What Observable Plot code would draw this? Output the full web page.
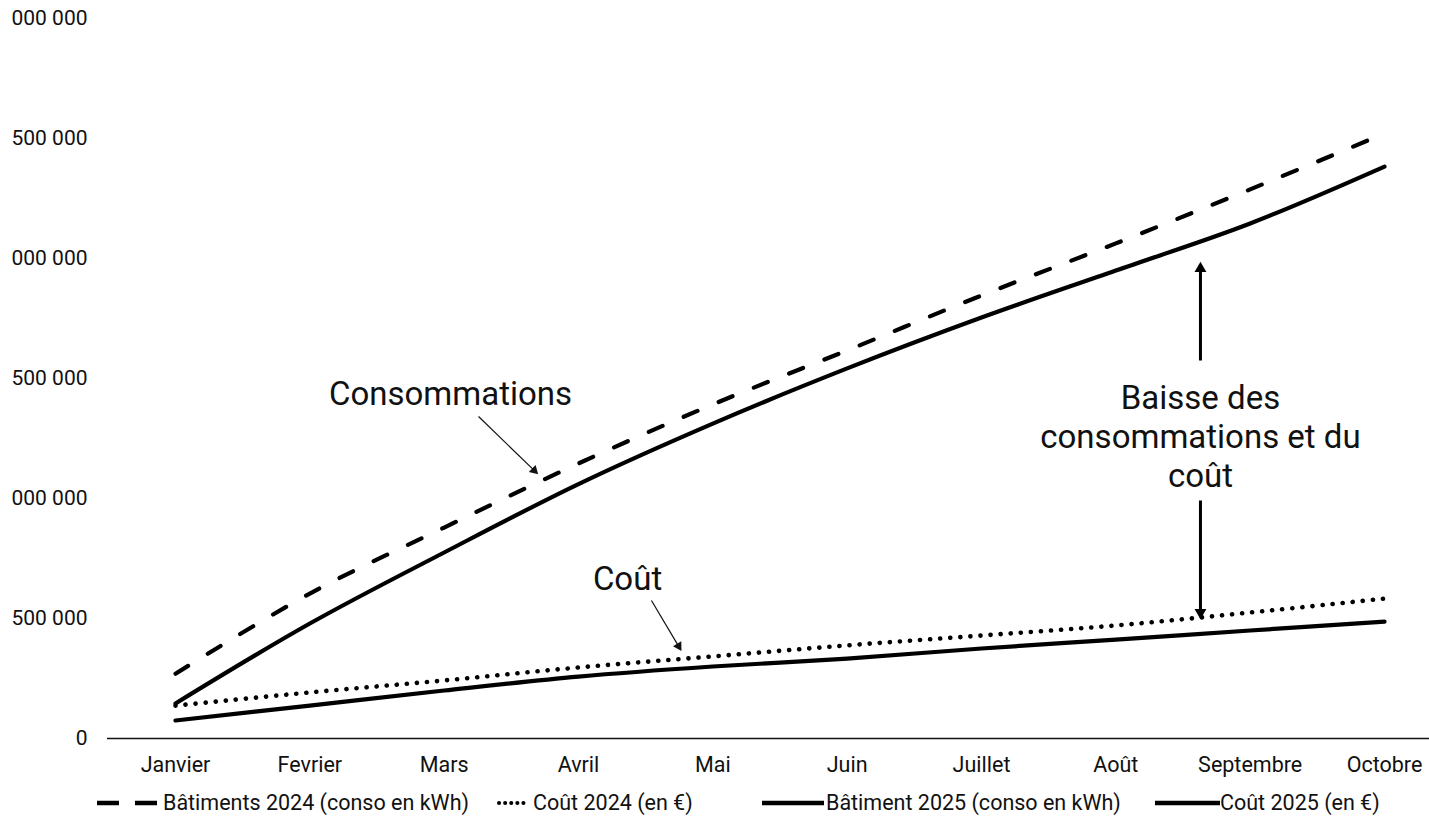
<!DOCTYPE html>
<html>
<head>
<meta charset="utf-8">
<script src="https://cdn.jsdelivr.net/npm/d3@7"></script>
<script src="https://cdn.jsdelivr.net/npm/@observablehq/plot@0.6"></script>
<style>
  html, body { margin: 0; padding: 0; background: #fff; }
  body { width: 1429px; height: 816px; position: relative; overflow: hidden; font-family: Roboto, "Liberation Sans", sans-serif; }
  #legend { position: absolute; left: 0; top: 790px; width: 1429px; height: 26px; font-size: 21.5px; color: #111; }
  .item { position: absolute; top: 0; height: 26px; white-space: nowrap; }
  .item svg { position: absolute; top: 7px; display: block; }
  .item span { position: absolute; top: 0; line-height: 26px; }
</style>
</head>
<body>
<div id="chart"></div>
<div id="legend"></div>
<script>
// ---- data ----
const months = ["Janvier", "Fevrier", "Mars", "Avril", "Mai", "Juin", "Juillet", "Août", "Septembre", "Octobre"];
const bat2024 = [270000, 604000, 879000, 1146000, 1392000, 1617000, 1846000, 2063000, 2288000, 2521000];
const bat2025 = [146000, 479000, 775000, 1060000, 1312000, 1542000, 1754000, 1950000, 2146000, 2383000];
const cout2024 = [137000, 192000, 242000, 296000, 342000, 388000, 429000, 471000, 525000, 583000];
const cout2025 = [75000, 137000, 200000, 258000, 300000, 333000, 375000, 412000, 450000, 487000];
const yTicks = [0, 500000, 1000000, 1500000, 2000000, 2500000, 3000000];
const yTickLabels = ["0", "500 000", "000 000", "500 000", "000 000", "500 000", "000 000"];
const seriesNames = ["Bâtiments 2024 (conso en kWh)", "Coût 2024 (en €)", "Bâtiment 2025 (conso en kWh)", "Coût 2025 (en €)"];

// annotations (positions in data space: x = month index, y = value)
const labels = [
  {x: 2.047, y: 1441700, text: "Consommations"},
  {x: 3.365, y: 670800, text: "Coût"},
  {x: 7.63, y: 1262500, text: "Baisse des\nconsommations et du\ncoût"}
];
const thinArrows = [
  {x1: 2.256, y1: 1341700, x2: 2.67, y2: 1117000, rot: 134.5},
  {x1: 3.543, y1: 575000, x2: 3.745, y2: 385000, rot: 149}
];
const thickArrows = [
  {x1: 7.63, y1: 1575000, x2: 7.63, y2: 1958000, rot: 0},
  {x1: 7.63, y1: 991700, x2: 7.63, y2: 525000, rot: 180}
];

const mk = arr => arr.map((v, i) => ({i, v}));
const font = "Roboto, 'Liberation Sans', sans-serif";

const chart = Plot.plot({
  width: 1429,
  height: 780,
  marginLeft: 107,
  marginRight: 0,
  marginTop: 18,
  marginBottom: 42,
  style: {fontFamily: font, color: "#111", background: "#fff"},
  x: {type: "linear", domain: [0, 9], range: [175, 1384]},
  y: {type: "linear", domain: [0, 3000000]},
  marks: [
    Plot.axisY(yTicks, {tickFormat: d => yTickLabels[yTicks.indexOf(d)], tickSize: 0, tickPadding: 20, fontSize: 21, label: null}),
    Plot.axisX(d3.range(months.length), {tickFormat: i => months[i], tickSize: 0, tickPadding: 18, fontSize: 21.5, label: null}),
    Plot.ruleY([0], {stroke: "#111", strokeWidth: 1.5}),
    Plot.line(mk(bat2024), {x: "i", y: "v", stroke: "#000", strokeWidth: 4.2, strokeDasharray: "15 23", strokeLinecap: "round", curve: "catmull-rom"}),
    Plot.line(mk(cout2024), {x: "i", y: "v", stroke: "#000", strokeWidth: 4.6, strokeDasharray: "0.1 10", strokeLinecap: "round", curve: "catmull-rom"}),
    Plot.line(mk(bat2025), {x: "i", y: "v", stroke: "#000", strokeWidth: 4.2, strokeLinecap: "round", curve: "catmull-rom"}),
    Plot.line(mk(cout2025), {x: "i", y: "v", stroke: "#000", strokeWidth: 4.2, strokeLinecap: "round", curve: "catmull-rom"}),
    Plot.text(labels, {x: "x", y: "y", text: "text", fontSize: 33, lineHeight: 1.18, fill: "#111", textAnchor: "middle", lineAnchor: "middle"}),
    Plot.link(thinArrows, {x1: "x1", y1: "y1", x2: "x2", y2: "y2", stroke: "#111", strokeWidth: 1.2}),
    ...thinArrows.map(a => Plot.dot([a], {x: "x2", y: "y2", symbol: "triangle", r: 3.6, fill: "#111", stroke: "none", rotate: a.rot})),
    Plot.link(thickArrows, {x1: "x1", y1: "y1", x2: "x2", y2: "y2", stroke: "#000", strokeWidth: 3}),
    ...thickArrows.map(a => Plot.dot([a], {x: "x2", y: "y2", symbol: "triangle", r: 4.4, fill: "#000", stroke: "none", rotate: a.rot}))
  ]
});
document.getElementById("chart").appendChild(chart);

// ---- legend ----
const legendItems = [
  {name: seriesNames[0], left: 95, w: 60, textLeft: 163, dash: "22 16", width: 4.5, cap: "butt"},
  {name: seriesNames[1], left: 497, w: 30, textLeft: 533, dash: "0.1 6", width: 4, cap: "round"},
  {name: seriesNames[2], left: 760, w: 62, textLeft: 826, dash: null, width: 4.5, cap: "butt"},
  {name: seriesNames[3], left: 1153, w: 65, textLeft: 1220, dash: null, width: 4.5, cap: "butt"}
];
const legend = d3.select("#legend");
legendItems.forEach(it => {
  const div = legend.append("div").attr("class", "item").style("left", it.left + "px");
  const s = div.append("svg").attr("width", it.w + 4).attr("height", 12);
  s.append("line").attr("x1", 2).attr("x2", it.w + 2).attr("y1", 6).attr("y2", 6)
    .attr("stroke", "#000").attr("stroke-width", it.width)
    .attr("stroke-linecap", it.cap)
    .attr("stroke-dasharray", it.dash);
  div.append("span").style("left", (it.textLeft - it.left) + "px").text(it.name);
});
</script>
</body>
</html>
